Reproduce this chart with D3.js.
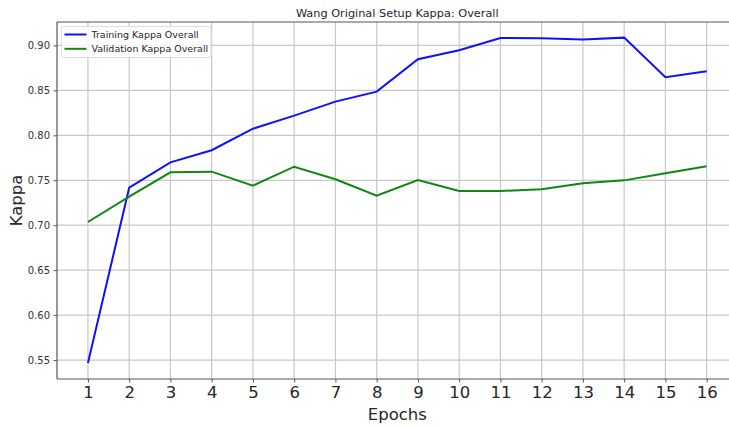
<!DOCTYPE html>
<html>
<head>
<meta charset="utf-8">
<script src="https://cdn.jsdelivr.net/npm/d3@7"></script>
<style>
  body { margin: 0; background: #fff; }
  svg { display: block; font-family: "DejaVu Sans", sans-serif; }
</style>
</head>
<body>
<div id="chart"></div>
<script>
// Data
const epochs = [1, 2, 3, 4, 5, 6, 7, 8, 9, 10, 11, 12, 13, 14, 15, 16];
const trainingKappa = [0.5467, 0.7417, 0.7700, 0.7834, 0.8074, 0.8219, 0.8375, 0.8486, 0.8846, 0.8946, 0.9083, 0.9080, 0.9065, 0.9087, 0.8646, 0.8712];
const validationKappa = [0.7036, 0.7317, 0.7589, 0.7596, 0.7440, 0.7651, 0.7511, 0.7328, 0.7503, 0.7381, 0.7381, 0.7400, 0.7466, 0.7499, 0.7577, 0.7655];
const yTicks = [0.55, 0.60, 0.65, 0.70, 0.75, 0.80, 0.85, 0.90];
const seriesNames = ['Training Kappa Overall', 'Validation Kappa Overall'];

const width = 729, height = 427;
const margin = {top: 22, left: 57, bottom: 48};
const plotRight = 737.6;   // axes run a bit past the picture edge

const svg = d3.select('#chart').append('svg')
    .attr('width', width)
    .attr('height', height);

const xScale = d3.scaleLinear()
    .domain([0.25, 16.75])
    .range([margin.left, plotRight]);

const yScale = d3.scaleLinear()
    .domain([0.5289, 0.9261])
    .range([height - margin.bottom, margin.top]);

// Grid
const grid = svg.append('g').attr('class', 'grid');
grid.selectAll('.vgrid').data(epochs)
    .enter().append('line')
    .attr('x1', d => xScale(d)).attr('x2', d => xScale(d))
    .attr('y1', margin.top).attr('y2', height - margin.bottom)
    .attr('stroke', '#c8c8c8').attr('stroke-width', 1.2);
grid.selectAll('.hgrid').data(yTicks)
    .enter().append('line')
    .attr('x1', margin.left).attr('x2', plotRight)
    .attr('y1', d => yScale(d)).attr('y2', d => yScale(d))
    .attr('stroke', '#c8c8c8').attr('stroke-width', 1.2);

// Axes
const xAxis = d3.axisBottom(xScale)
    .tickValues(epochs)
    .tickFormat(d3.format('d'))
    .tickSize(3.5)
    .tickPadding(4);

const yAxis = d3.axisLeft(yScale)
    .tickValues(yTicks)
    .tickFormat(d3.format('.2f'))
    .tickSize(3.5)
    .tickPadding(3.5);

const xAxisGroup = svg.append('g')
    .attr('transform', `translate(0, ${height - margin.bottom})`)
    .call(xAxis);
xAxisGroup.select('.domain').remove();
xAxisGroup.selectAll('.tick line').attr('stroke', '#555');
xAxisGroup.selectAll('.tick text')
    .attr('font-size', 16.5)
    .attr('fill', '#262626')
    .attr('font-family', '"DejaVu Sans", sans-serif');

const yAxisGroup = svg.append('g')
    .attr('transform', `translate(${margin.left}, 0)`)
    .call(yAxis);
yAxisGroup.select('.domain').remove();
yAxisGroup.selectAll('.tick line').attr('stroke', '#555');
yAxisGroup.selectAll('.tick text')
    .attr('font-size', 10)
    .attr('fill', '#333')
    .attr('font-family', '"DejaVu Sans", sans-serif');

// Spines
svg.append('line')
    .attr('x1', margin.left).attr('x2', margin.left)
    .attr('y1', margin.top).attr('y2', height - margin.bottom)
    .attr('stroke', '#555').attr('stroke-width', 1.2);
svg.append('line')
    .attr('x1', margin.left).attr('x2', plotRight)
    .attr('y1', height - margin.bottom).attr('y2', height - margin.bottom)
    .attr('stroke', '#555').attr('stroke-width', 1.2);
svg.append('line')
    .attr('x1', margin.left).attr('x2', plotRight)
    .attr('y1', margin.top).attr('y2', margin.top)
    .attr('stroke', '#555').attr('stroke-width', 1.2);

// Lines
const lineGenerator = (values) => d3.line()
    .x((d, i) => xScale(epochs[i]))
    .y(d => yScale(d))(values);

svg.append('path')
    .attr('d', lineGenerator(trainingKappa))
    .attr('fill', 'none')
    .attr('stroke', '#1010ff')
    .attr('stroke-width', 2);

svg.append('path')
    .attr('d', lineGenerator(validationKappa))
    .attr('fill', 'none')
    .attr('stroke', '#108810')
    .attr('stroke-width', 2);

// Title and axis labels
svg.append('text')
    .attr('x', (margin.left + plotRight) / 2)
    .attr('y', 17)
    .attr('text-anchor', 'middle')
    .attr('font-size', 11.3)
    .attr('fill', '#262626')
    .text('Wang Original Setup Kappa: Overall');

svg.append('text')
    .attr('x', (margin.left + plotRight) / 2)
    .attr('y', 420)
    .attr('text-anchor', 'middle')
    .attr('font-size', 16.5)
    .attr('fill', '#262626')
    .text('Epochs');

svg.append('text')
    .attr('transform', `translate(22, ${yScale(0.7275)}) rotate(-90)`)
    .attr('text-anchor', 'middle')
    .attr('font-size', 16.5)
    .attr('fill', '#262626')
    .text('Kappa');

// Legend
const legend = svg.append('g').attr('transform', 'translate(61.5, 26.5)');
legend.append('rect')
    .attr('width', 149.5).attr('height', 31)
    .attr('rx', 2)
    .attr('fill', 'rgba(255,255,255,0.8)')
    .attr('stroke', '#ddd');
const legendColors = ['#1010ff', '#108810'];
seriesNames.forEach((name, i) => {
    const y = 8 + i * 14.3;
    legend.append('line')
        .attr('x1', 3).attr('x2', 25)
        .attr('y1', y).attr('y2', y)
        .attr('stroke', legendColors[i]).attr('stroke-width', 2);
    legend.append('text')
        .attr('x', 30).attr('y', y + 3.5)
        .attr('font-size', 9.5)
        .attr('fill', '#262626')
        .text(name);
});
</script>
</body>
</html>
